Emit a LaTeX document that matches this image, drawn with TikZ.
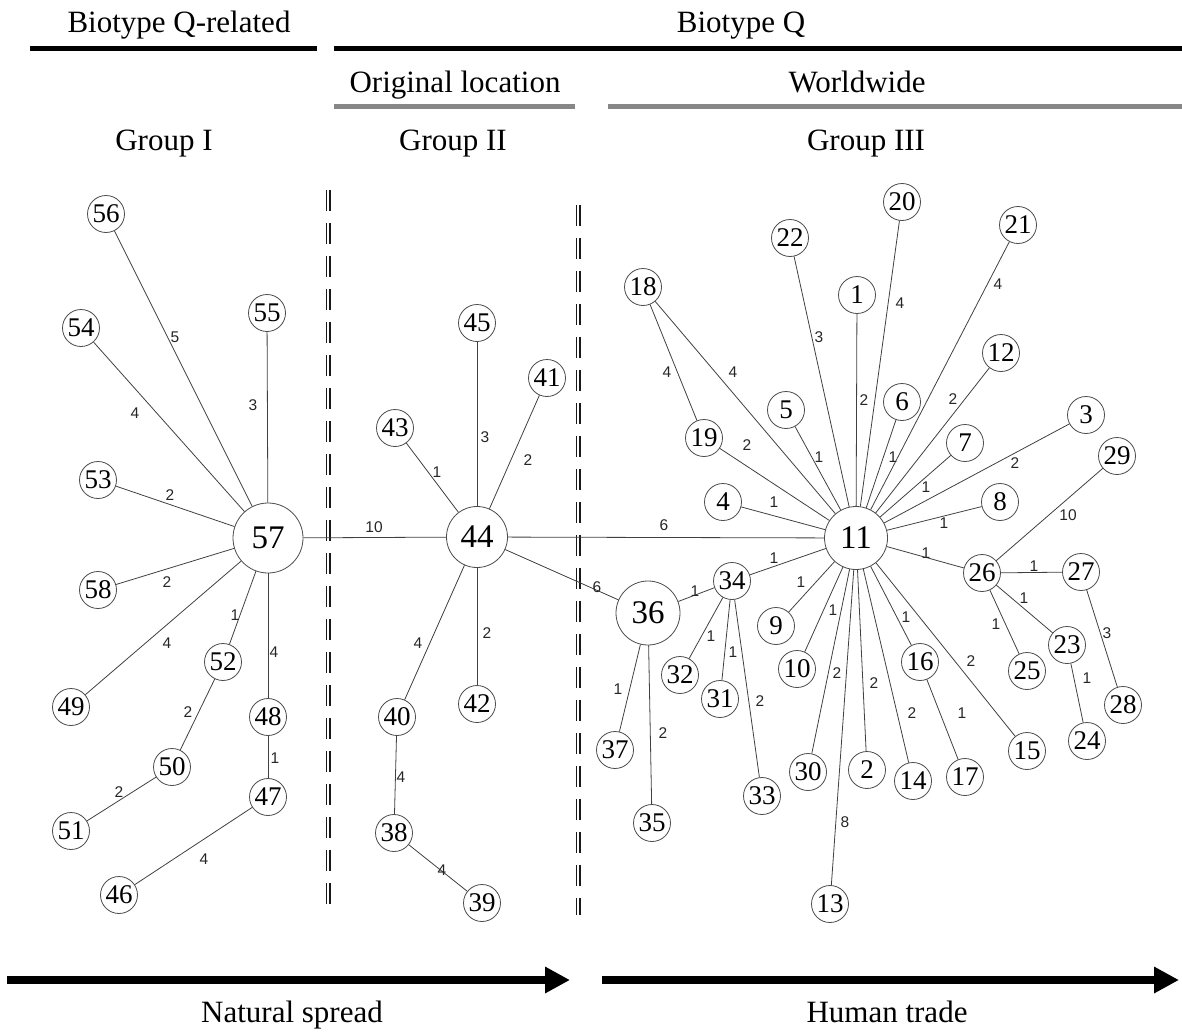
\documentclass[tikz,border=0pt]{standalone}
\usepackage{fontspec}
\setmainfont{Liberation Serif}
\newfontfamily\labsans{Liberation Sans}
\usetikzlibrary{arrows.meta}

\newcommand\hapfont{\fontsize{27}{27}\selectfont}
\newcommand\hubfont{\fontsize{33}{33}\selectfont}
\newcommand\stepfont{\labsans\fontsize{15.5}{15.5}\selectfont}
\newcommand\headfont{\fontsize{31}{31}\selectfont}

\tikzset{
  hap/.style={circle, draw=black!70, line width=0.8pt, fill=white,
    minimum size=37pt, inner sep=0pt, font=\hapfont},
  hub/.style={hap, minimum size=63pt, font=\hubfont},
  link/.style={draw=black!75, line width=0.8pt},
  steps/.style={inner sep=0pt, font=\stepfont, text=black!85},
  headtext/.style={anchor=base, inner sep=0pt, font=\headfont},
  bar/.style={line width=5pt},
  divider/.style={draw=black!90, line width=1.6pt, double, double distance=1.8pt,
    dash pattern=on 21pt off 12pt},
  trend/.style={line width=8pt, -{Triangle[length=25pt,width=25pt]}}
}

\begin{document}
\begin{tikzpicture}[x=1pt, y=-1pt]
\useasboundingbox (0,0) rectangle (1182,1033);

% headings
\node[headtext] (hqr) at (179,33) {Biotype Q-related};
\node[headtext] (hq) at (741,33) {Biotype Q};
\draw[bar] (30,48.5) -- (317,48.5);
\draw[bar] (334,48.5) -- (1182,48.5);
\node[headtext] (horig) at (455,92) {Original location};
\node[headtext] (hworld) at (857,92) {Worldwide};
\draw[bar, black!47] (334,106) -- (575,106);
\draw[bar, black!47] (608,106) -- (1182,106);
\node[headtext] (g1) at (164,150) {Group I};
\node[headtext] (g2) at (453,150) {Group II};
\node[headtext] (g3) at (866,150) {Group III};

% group borders
\draw[divider] (328,190) -- (328,912);
\draw[divider] (578,205) -- (578,915);

% group I
\node[hub, minimum size=70pt] (n57) at (268,538) {57};
\node[hap] (n56) at (106,214) {56};
\node[hap] (n54) at (81,328) {54};
\node[hap] (n55) at (267,313) {55};
\node[hap] (n53) at (98,480) {53};
\node[hap] (n58) at (98,590) {58};
\node[hap] (n49) at (71,707) {49};
\node[hap] (n52) at (223,662) {52};
\node[hap] (n48) at (268,717) {48};
\node[hap] (n50) at (172,767) {50};
\node[hap] (n47) at (268,797) {47};
\node[hap] (n51) at (71,831) {51};
\node[hap] (n46) at (119,895) {46};

% group II
\node[hub, minimum size=61pt] (n44) at (477,537) {44};
\node[hap] (n45) at (477,323) {45};
\node[hap] (n41) at (547,378) {41};
\node[hap] (n43) at (395,428) {43};
\node[hap] (n40) at (397,717) {40};
\node[hap] (n42) at (477,704) {42};
\node[hap] (n38) at (394,833) {38};
\node[hap] (n39) at (482,903) {39};

% group III
\node[hub] (n11) at (856,538) {11};
\node[hub, minimum size=64pt] (n36) at (648,613) {36};
\node[hap] (n18) at (643,287) {18};
\node[hap] (n22) at (790,238) {22};
\node[hap] (n1) at (857,295) {1};
\node[hap] (n20) at (902,202) {20};
\node[hap] (n21) at (1018,225) {21};
\node[hap] (n12) at (1001,353) {12};
\node[hap] (n6) at (902,402) {6};
\node[hap] (n5) at (786,410) {5};
\node[hap] (n19) at (704,438) {19};
\node[hap] (n3) at (1086,415) {3};
\node[hap] (n7) at (965,443) {7};
\node[hap] (n29) at (1117,456) {29};
\node[hap] (n4) at (723,502) {4};
\node[hap] (n8) at (1000,502) {8};
\node[hap] (n26) at (982,573) {26};
\node[hap] (n27) at (1081,572) {27};
\node[hap] (n34) at (732,581) {34};
\node[hap] (n9) at (776,626) {9};
\node[hap] (n23) at (1067,645) {23};
\node[hap] (n16) at (920,662) {16};
\node[hap] (n10) at (797,669) {10};
\node[hap] (n25) at (1027,671) {25};
\node[hap] (n32) at (680,675) {32};
\node[hap] (n31) at (720,699) {31};
\node[hap] (n28) at (1123,705) {28};
\node[hap] (n24) at (1087,741) {24};
\node[hap] (n37) at (615,750) {37};
\node[hap] (n15) at (1027,751) {15};
\node[hap] (n2) at (867,770) {2};
\node[hap] (n30) at (808,772) {30};
\node[hap] (n17) at (965,777) {17};
\node[hap] (n14) at (913,781) {14};
\node[hap] (n33) at (762,796) {33};
\node[hap] (n35) at (652,823) {35};
\node[hap] (n13) at (830,904) {13};

% links in group I
\draw[link] (n57) -- (n56) node[steps] (s57-56) at (175,337) {5};
\draw[link] (n57) -- (n54) node[steps] (s57-54) at (135,413) {4};
\draw[link] (n57) -- (n55) node[steps] (s57-55) at (253,405) {3};
\draw[link] (n57) -- (n53) node[steps] (s57-53) at (170,495) {2};
\draw[link] (n57) -- (n58) node[steps] (s57-58) at (167,582) {2};
\draw[link] (n57) -- (n49) node[steps] (s57-49) at (167,643) {4};
\draw[link] (n57) -- (n52) node[steps] (s57-52) at (235,615) {1};
\draw[link] (n57) -- (n48) node[steps] (s57-48) at (274,652) {4};
\draw[link] (n52) -- (n50) node[steps] (s52-50) at (188,712) {2};
\draw[link] (n48) -- (n47) node[steps] (s48-47) at (275,758) {1};
\draw[link] (n50) -- (n51) node[steps] (s50-51) at (119,792) {2};
\draw[link] (n47) -- (n46) node[steps] (s47-46) at (204,859) {4};

% links in group II
\draw[link] (n57) -- (n44) node[steps] (s57-44) at (374,527) {10};
\draw[link] (n44) -- (n45) node[steps] (s44-45) at (485,437) {3};
\draw[link] (n44) -- (n41) node[steps] (s44-41) at (528,460) {2};
\draw[link] (n44) -- (n43) node[steps] (s44-43) at (437,472) {1};
\draw[link] (n44) -- (n40) node[steps] (s44-40) at (418,643) {4};
\draw[link] (n44) -- (n42) node[steps] (s44-42) at (487,633) {2};
\draw[link] (n40) -- (n38) node[steps] (s40-38) at (401,777) {4};
\draw[link] (n38) -- (n39) node[steps] (s38-39) at (442,870) {4};

% links in group III
\draw[link] (n44) -- (n11) node[steps] (s44-11) at (664,525) {6};
\draw[link] (n44) -- (n36) node[steps] (s44-36) at (597,587) {6};
\draw[link] (n11) -- (n22) node[steps] (s11-22) at (819,337) {3};
\draw[link] (n11) -- (n1) node[steps] (s11-1) at (864,400) {2};
\draw[link] (n11) -- (n20) node[steps] (s11-20) at (900,303) {4};
\draw[link] (n11) -- (n21) node[steps] (s11-21) at (998,284) {4};
\draw[link] (n11) -- (n12) node[steps] (s11-12) at (953,399) {2};
\draw[link] (n11) -- (n6) node[steps] (s11-6) at (893,457) {1};
\draw[link] (n11) -- (n7) node[steps] (s11-7) at (926,487) {1};
\draw[link] (n11) -- (n3) node[steps] (s11-3) at (1015,463) {2};
\draw[link] (n11) -- (n8) node[steps] (s11-8) at (944,523) {1};
\draw[link] (n11) -- (n18) node[steps] (s11-18) at (733,372) {4};
\draw[link] (n18) -- (n19) node[steps] (s18-19) at (667,372) {4};
\draw[link] (n11) -- (n19) node[steps] (s11-19) at (747,445) {2};
\draw[link] (n11) -- (n5) node[steps] (s11-5) at (819,457) {1};
\draw[link] (n11) -- (n4) node[steps] (s11-4) at (774,502) {1};
\draw[link] (n11) -- (n34) node[steps] (s11-34) at (774,558) {1};
\draw[link] (n36) -- (n34) node[steps] (s36-34) at (695,591) {1};
\draw[link] (n11) -- (n9) node[steps] (s11-9) at (801,582) {1};
\draw[link] (n11) -- (n10) node[steps] (s11-10) at (833,610) {1};
\draw[link] (n34) -- (n32) node[steps] (s34-32) at (711,636) {1};
\draw[link] (n34) -- (n31) node[steps] (s34-31) at (733,652) {1};
\draw[link] (n34) -- (n33) node[steps] (s34-33) at (760,701) {2};
\draw[link] (n11) -- (n30) node[steps] (s11-30) at (837,673) {2};
\draw[link] (n11) -- (n2) node[steps] (s11-2) at (874,683) {2};
\draw[link] (n36) -- (n37) node[steps] (s36-37) at (618,689) {1};
\draw[link] (n36) -- (n35) node[steps] (s36-35) at (663,733) {2};
\draw[link] (n11) -- (n13) node[steps] (s11-13) at (845,822) {8};
\draw[link] (n11) -- (n26) node[steps] (s11-26) at (926,553) {1};
\draw[link] (n26) -- (n29) node[steps] (s26-29) at (1068,515) {10};
\draw[link] (n26) -- (n27) node[steps] (s26-27) at (1034,566) {1};
\draw[link] (n26) -- (n23) node[steps] (s26-23) at (1024,598) {1};
\draw[link] (n26) -- (n25) node[steps] (s26-25) at (996,624) {1};
\draw[link] (n27) -- (n28) node[steps] (s27-28) at (1107,633) {3};
\draw[link] (n23) -- (n24) node[steps] (s23-24) at (1087,678) {1};
\draw[link] (n11) -- (n16) node[steps] (s11-16) at (906,617) {1};
\draw[link] (n11) -- (n15) node[steps] (s11-15) at (971,661) {2};
\draw[link] (n11) -- (n14) node[steps] (s11-14) at (912,713) {2};
\draw[link] (n16) -- (n17) node[steps] (s16-17) at (962,713) {1};

% spread arrows
\coordinate (nat-a) at (7,980);
\coordinate (nat-b) at (570,980);
\coordinate (hum-a) at (602,980);
\coordinate (hum-b) at (1179,980);
\draw[trend] (nat-a) -- (nat-b);
\draw[trend] (hum-a) -- (hum-b);
\node[headtext] (nat) at (292,1022) {Natural spread};
\node[headtext] (hum) at (887,1022) {Human trade};
\end{tikzpicture}
\end{document}
